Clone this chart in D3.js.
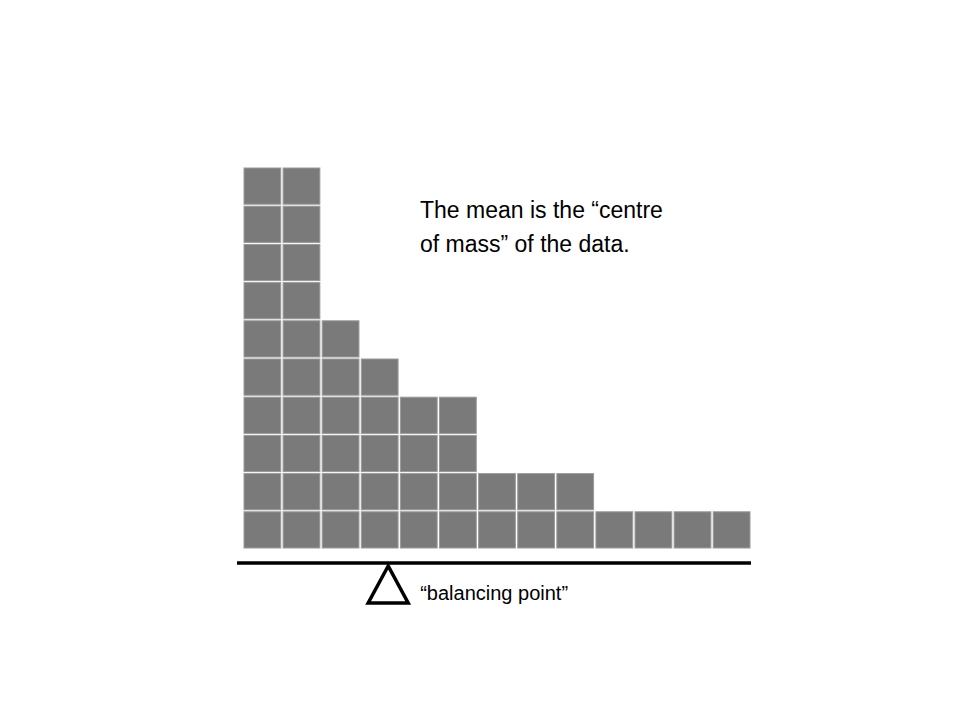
<!DOCTYPE html>
<html><head><meta charset="utf-8">
<script src="https://cdn.jsdelivr.net/npm/d3@7"></script>
<style>body{margin:0;background:#fff}</style>
</head><body>
<script>
// value bins and how many blocks are stacked in each
var bins = [1,2,3,4,5,6,7,8,9,10,11,12,13];
var counts = [10,10,6,5,4,4,2,2,2,1,1,1,1];
var noteLines = ["The mean is the \u201ccentre", "of mass\u201d of the data."];
var pivotLabel = "\u201cbalancing point\u201d";
var meanValue = d3.sum(bins.map((b, i) => b * counts[i])) / d3.sum(counts);

var svg = d3.select("body").append("svg").attr("width", 960).attr("height", 720);

var x = d3.scaleBand().domain(bins).range([244, 750]).paddingInner(0.06).paddingOuter(0);
var y = d3.scaleLinear().domain([0, 10]).range([549, 167]);
var xMean = d3.scaleLinear().domain([0.5, 13.5]).range([244, 750]);

var blocks = [];
bins.forEach((b, i) => { for (var k = 0; k < counts[i]; k++) blocks.push({bin: b, k: k}); });

svg.selectAll("rect.block").data(blocks).enter().append("rect")
  .attr("class", "block")
  .attr("x", d => x(d.bin))
  .attr("y", d => y(d.k + 1) + 1)
  .attr("width", x.bandwidth())
  .attr("height", y(0) - y(1) - 2)
  .attr("fill", "#7a7a7a")
  .attr("stroke", "#9a9a9a")
  .attr("stroke-width", 1);

// beam
svg.append("line").attr("x1", 237).attr("x2", 751).attr("y1", 563).attr("y2", 563)
  .attr("stroke", "#000").attr("stroke-width", 3.5);

// pivot triangle at the mean
var px = xMean(meanValue);
svg.append("path")
  .attr("d", `M${px},566 L${px - 20},603 L${px + 20},603 Z`)
  .attr("fill", "#fff").attr("stroke", "#000").attr("stroke-width", 3.5)
  .attr("stroke-linejoin", "miter");

svg.append("text").attr("x", px + 32).attr("y", 600)
  .attr("font-family", "Liberation Sans, Arial, sans-serif").attr("font-size", 20)
  .text(pivotLabel);

svg.selectAll("text.note").data(noteLines).enter().append("text")
  .attr("class", "note")
  .attr("x", 420).attr("y", (d, i) => 218 + i * 34)
  .attr("font-family", "Liberation Sans, Arial, sans-serif").attr("font-size", 23)
  .text(d => d);
</script>
</body></html>
